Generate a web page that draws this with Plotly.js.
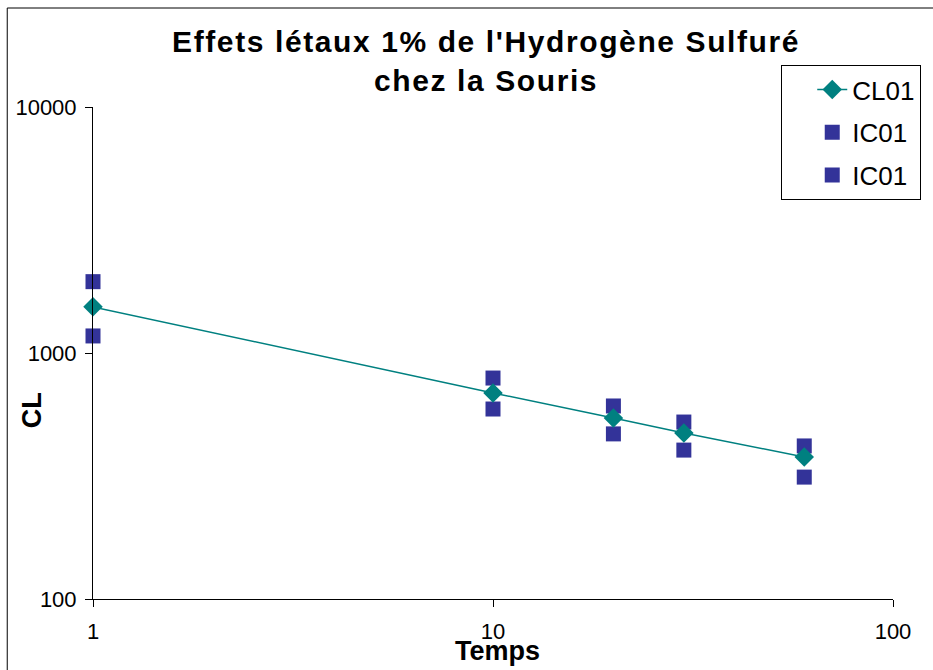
<!DOCTYPE html>
<html>
<head>
<meta charset="utf-8">
<script src="https://cdn.plot.ly/plotly-3.0.1.min.js"></script>
<style>
html,body{margin:0;padding:0;background:#fff;}
#chart{width:933px;height:670px;}
#chart .gtitle{letter-spacing:1.6px;}
</style>
</head>
<body>
<div id="chart"></div>
<script>
// Data
var temps = [1, 10, 20, 30, 60];
var cl01 = [1540, 688, 544, 473, 378];
var ic01Upper = [1950, 791, 609, 524, 419];
var ic01Lower = [1173, 592, 469, 403, 313];
var xTickVals = [1, 10, 100];
var xTickText = ['1', '10', '100'];
var yTickVals = [100, 1000, 10000];
var yTickText = ['100', '1000', '10000'];

var FONT = 'Arial, "Liberation Sans", sans-serif';

var traces = [
  {x: temps, y: ic01Upper, name: 'IC01', type: 'scatter', mode: 'markers', cliponaxis: false,
   marker: {symbol: 'square', size: 15, color: '#333399', line: {width: 0}},
   legendrank: 2, legendgroup: 'b'},
  {x: temps, y: ic01Lower, name: 'IC01', type: 'scatter', mode: 'markers', cliponaxis: false,
   marker: {symbol: 'square', size: 15, color: '#333399', line: {width: 0}},
   legendrank: 3, legendgroup: 'c'},
  {x: temps, y: cl01, name: 'CL01', type: 'scatter', mode: 'lines+markers', cliponaxis: false,
   line: {color: '#008080', width: 1.5},
   marker: {symbol: 'diamond', size: 15, color: '#008080', line: {width: 0}},
   legendrank: 1, legendgroup: 'a'}
];

var layout = {
  width: 933, height: 670,
  margin: {l: 93, r: 38, t: 107, b: 71},
  paper_bgcolor: '#fff', plot_bgcolor: '#fff',
  font: {family: FONT, color: '#000'},
  title: {
    text: "Effets létaux 1% de l'Hydrogène Sulfuré<br>chez la Souris",
    font: {family: FONT, size: 30, color: '#000', weight: 'bold'},
    x: 0.521, xref: 'container', xanchor: 'center',
    y: 0.922, yref: 'container', yanchor: 'middle'
  },
  xaxis: {
    type: 'log', range: [0, 2],
    tickvals: xTickVals, ticktext: xTickText,
    ticks: 'outside', ticklen: 7, tickcolor: '#000', tickwidth: 1,
    showline: true, linecolor: '#000', linewidth: 1,
    showgrid: false, zeroline: false,
    tickfont: {family: FONT, size: 22, color: '#000'},
    ticklabelstandoff: 6
  },
  yaxis: {
    type: 'log', range: [2, 4],
    tickvals: yTickVals, ticktext: yTickText,
    ticks: 'outside', ticklen: 7, tickcolor: '#000', tickwidth: 1,
    showline: true, linecolor: '#000', linewidth: 1,
    showgrid: false, zeroline: false,
    tickfont: {family: FONT, size: 22, color: '#000'},
    ticklabelstandoff: 4
  },
  annotations: [
    {text: 'Temps', xref: 'paper', yref: 'paper', x: 0.505, y: -0.1057,
     xanchor: 'center', yanchor: 'middle', showarrow: false,
     font: {family: FONT, size: 27, color: '#000', weight: 'bold'}},
    {text: 'CL', xref: 'paper', yref: 'paper', x: -0.0761, y: 0.384,
     xanchor: 'center', yanchor: 'middle', showarrow: false, textangle: -90,
     font: {family: FONT, size: 27, color: '#000', weight: 'bold'}}
  ],
  shapes: [
    {type: 'rect', xref: 'paper', yref: 'paper',
     x0: -0.1072, x1: 1.06, y0: -0.16, y1: 1.2012,
     line: {color: '#000', width: 1}, fillcolor: 'rgba(0,0,0,0)', layer: 'below'}
  ],
  showlegend: true,
  legend: {
    x: 0.8603, y: 1.0854, xanchor: 'left', yanchor: 'top',
    xref: 'paper', yref: 'paper',
    bgcolor: '#fff', bordercolor: '#000', borderwidth: 1,
    font: {family: FONT, size: 26, color: '#000'},
    traceorder: 'grouped', tracegroupgap: 6,
    indentation: 30
  }
};

Plotly.newPlot('chart', traces, layout, {displayModeBar: false, staticPlot: true});
</script>
</body>
</html>
